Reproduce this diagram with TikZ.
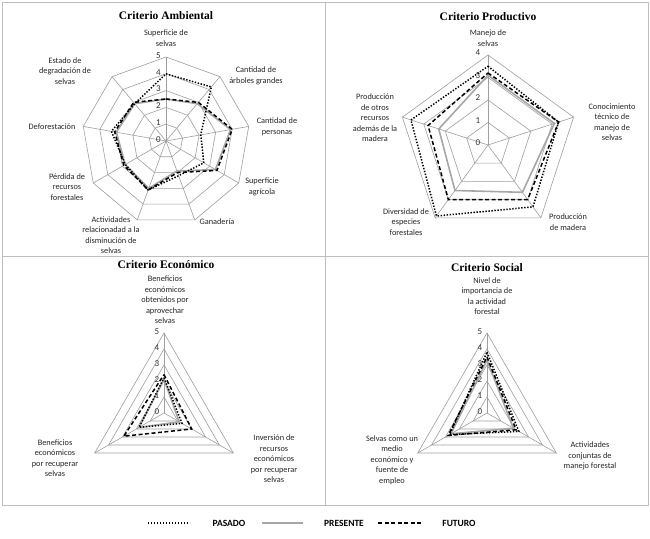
\documentclass[tikz,border=0pt]{standalone}
\usepackage{fontspec}
\setmainfont{Carlito}
\newfontfamily\titlefont{Liberation Serif}
\tikzset{
 grid/.style={draw=gray!75,line width=0.6pt},
 lab/.style={font=\fontsize{8.3}{10.5}\selectfont,align=center,text=black!85,inner sep=0pt},
 tick/.style={font=\fontsize{9}{10}\selectfont,text=black!80,inner sep=0pt},
 ttl/.style={font=\titlefont\bfseries\fontsize{11.5}{13}\selectfont,inner sep=0pt},
 pas/.style={line width=1.5pt,dash pattern=on 1.4pt off 1.6pt},
 pre/.style={line width=1.6pt,draw=gray!70},
 fut/.style={line width=1.5pt,dash pattern=on 4pt off 2.5pt},
 frame/.style={draw=gray!50,line width=0.8pt}
}
\begin{document}
\begin{tikzpicture}[x=1pt,y=1pt]
\useasboundingbox (0,0) rectangle (650,538);
\fill[white] (0,0) rectangle (650,538);
\draw[frame] (2,33) rectangle (648,536);
\draw[frame] (325,33) -- (325,536);
\draw[frame] (2,282) -- (648,282);

% ---------- Ambiental ----------
\node[ttl] (t1) at (166,522) {Criterio Ambiental};
\begin{scope}[shift={(166,397)},scale=16.8]
 \foreach \r in {1,...,5} \draw[grid] (90:\r) \foreach \k in {1,...,8} {-- (90-40*\k:\r)} -- cycle;
 \foreach \k in {0,...,8} \draw[grid] (0,0) -- (90-40*\k:5);
 \foreach \r in {0,...,5} \node[tick] (a\r) at (-0.45,\r+0.1) {\r};
 \draw[pre] (90:2.5) -- (50:2.9) -- (10:3.9) -- (-30:3.4) -- (-70:1.9) -- (-110:3.0) -- (-150:2.8) -- (-190:3.0) -- (-230:2.9) -- cycle;
 \draw[fut] (90:2.5) -- (50:3.0) -- (10:4.0) -- (-30:3.5) -- (-70:2.0) -- (-110:3.1) -- (-150:2.9) -- (-190:3.1) -- (-230:3.0) -- cycle;
 \draw[pas] (90:4.0) -- (50:4.2) -- (10:2.1) -- (-30:2.6) -- (-70:2.2) -- (-110:3.1) -- (-150:2.8) -- (-190:3.3) -- (-230:2.9) -- cycle;
\end{scope}
\node[lab] (l11) at (166,500) {Superficie de\\selvas};
\node[lab] (l12) at (256,462) {Cantidad de\\árboles grandes};
\node[lab] (l13) at (277,411) {Cantidad de\\personas};
\node[lab] (l14) at (262,351) {Superficie\\agrícola};
\node[lab] (l15) at (217,316) {Ganadería};
\node[lab] (l16) at (111,303) {Actividades\\relacionadad a la\\disminución de\\selvas};
\node[lab] (l17) at (67,351) {Pérdida de\\recursos\\forestales};
\node[lab] (l18) at (52,411) {Deforestación};
\node[lab] (l19) at (65,467) {Estado de\\degradación de\\selvas};

% ---------- Productivo ----------
\node[ttl] (t2) at (488,521) {Criterio Productivo};
\begin{scope}[shift={(488,393)},scale=22.5]
 \foreach \r in {1,...,4} \draw[grid] (90:\r) \foreach \k in {1,...,4} {-- (90-72*\k:\r)} -- cycle;
 \foreach \k in {0,...,4} \draw[grid] (0,0) -- (90-72*\k:4);
 \foreach \r in {0,...,4} \node[tick] (p\r) at (-0.45,\r+0.1) {\r};
 \draw[pre] (90:3.1) -- (18:3.1) -- (-54:2.6) -- (-126:2.5) -- (-198:2.3) -- cycle;
 \draw[fut] (90:3.2) -- (18:3.3) -- (-54:3.0) -- (-126:3.0) -- (-198:2.8) -- cycle;
 \draw[pas] (90:3.5) -- (18:3.3) -- (-54:3.4) -- (-126:3.9) -- (-198:3.6) -- cycle;
\end{scope}
\node[lab] (l21) at (488,500) {Manejo de\\selvas};
\node[lab] (l22) at (612,416) {Conocimiento\\técnico de\\manejo de\\selvas};
\node[lab] (l23) at (568,316) {Producción\\de madera};
\node[lab] (l24) at (406,316) {Diversidad de\\especies\\forestales};
\node[lab] (l25) at (375,420) {Producción\\de otros\\recursos\\además de la\\madera};

% ---------- Economico ----------
\node[ttl] (t3) at (166,273) {Criterio Económico};
\begin{scope}[shift={(164,125)},scale=16]
 \foreach \r in {1,...,5} \draw[grid] (90:\r) -- (-30:\r) -- (210:\r) -- cycle;
 \foreach \a in {90,-30,210} \draw[grid] (0,0) -- (\a:5);
 \foreach \r in {0,...,5} \node[tick] (e\r) at (-0.45,\r+0.1) {\r};
 \draw[pre] (90:2.1) -- (-30:1.1) -- (210:1.8) -- cycle;
 \draw[fut] (90:2.4) -- (-30:2.0) -- (210:2.9) -- cycle;
 \draw[pas] (90:2.2) -- (-30:1.3) -- (210:1.8) -- cycle;
\end{scope}
\node[lab] (l31) at (165,238) {Beneficios\\económicos\\obtenidos por\\aprovechar\\selvas};
\node[lab] (l32) at (274,79) {Inversión de\\recursos\\económicos\\por recuperar\\selvas};
\node[lab] (l33) at (55,80) {Beneficios\\económicos\\por recuperar\\selvas};

% ---------- Social ----------
\node[ttl] (t4) at (487,270) {Criterio Social};
\begin{scope}[shift={(487,125)},scale=16]
 \foreach \r in {1,...,5} \draw[grid] (90:\r) -- (-30:\r) -- (210:\r) -- cycle;
 \foreach \a in {90,-30,210} \draw[grid] (0,0) -- (\a:5);
 \foreach \r in {0,...,5} \node[tick] (s\r) at (-0.45,\r+0.1) {\r};
 \draw[pre] (90:3.3) -- (-30:1.9) -- (210:2.6) -- cycle;
 \draw[fut] (90:3.5) -- (-30:2.1) -- (210:2.8) -- cycle;
 \draw[pas] (90:3.8) -- (-30:2.3) -- (210:2.7) -- cycle;
\end{scope}
\node[lab] (l41) at (487,242) {Nivel de\\importancia de\\la actividad\\forestal};
\node[lab] (l42) at (590,82) {Actividades\\conjuntas de\\manejo forestal};
\node[lab] (l43) at (392,78) {Selvas como un\\medio\\económico y\\fuente de\\empleo};

% ---------- Legend ----------
\tikzset{leg/.style={font=\bfseries\fontsize{9.5}{11}\selectfont,inner sep=0pt}}
\coordinate (d1) at (148,15); \coordinate (d2) at (190,15);
\draw[pas,line width=1.4pt] (d1) -- (d2);
\node[leg] (n1) at (229,15) {PASADO};
\coordinate (g1) at (262,15); \coordinate (g2) at (303,15);
\draw[pre,line width=1.4pt] (g1) -- (g2);
\node[leg] (n2) at (344,15) {PRESENTE};
\coordinate (f1) at (378,15); \coordinate (f2) at (423,15);
\draw[fut,line width=1.4pt] (f1) -- (f2);
\node[leg] (n3) at (459,15) {FUTURO};
\end{tikzpicture}
\end{document}
